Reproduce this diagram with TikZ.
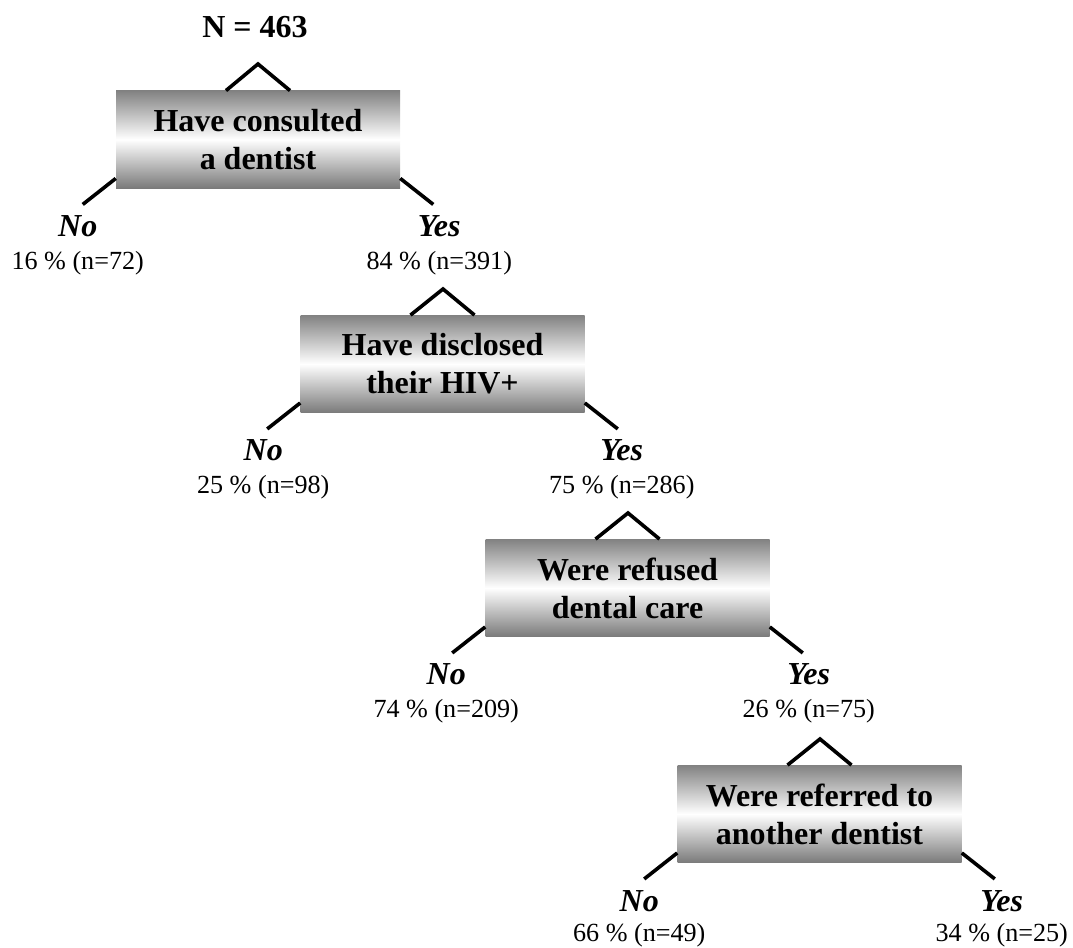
\documentclass[tikz,border=0pt]{standalone}
\usepackage{fontspec}
\setmainfont{Liberation Serif}
\usetikzlibrary{calc}
\definecolor{gtop}{RGB}{130,130,130}
\definecolor{gbot}{RGB}{122,122,122}
\tikzset{
  qbox/.style={minimum width=213pt, minimum height=73pt, inner sep=0pt, align=center,
    font=\fontsize{24}{28.5}\selectfont\bfseries,
    top color=gtop, bottom color=gbot, middle color=white},
  leg/.style={line width=2.7pt, black},
  ans/.style={font=\fontsize{24}{28}\selectfont\bfseries\itshape, anchor=base, inner sep=0pt},
  pct/.style={font=\fontsize{19.6}{23}\selectfont, anchor=base, inner sep=0pt},
  ttl/.style={font=\fontsize{24}{28}\selectfont\bfseries, anchor=base, inner sep=0pt}
}
\begin{document}
\begin{tikzpicture}[x=0.75pt, y=-0.75pt]
\useasboundingbox (0,0) rectangle (1073,947);

\node[ttl] (title) at (255,37) {N = 463};

% boxes
\node[qbox] (b1) at (258,139.5) {Have consulted\\a dentist};
\node[qbox] (b2) at (442.5,364) {Have disclosed\\their HIV+};
\node[qbox] (b3) at (627.5,588) {Were refused\\dental care};
\node[qbox] (b4) at (819.5,814) {Were referred to\\another dentist};

% apexes
\coordinate (a1) at (258,64);
\coordinate (a2) at (443,289);
\coordinate (a3) at (628,513);
\coordinate (a4) at (820,739);

% top legs
\foreach \i in {1,2,3,4}{
  \draw[leg] ($(b\i.north)+(-32,0)$) -- (a\i) -- ($(b\i.north)+(32,0)$);
}

% leg ends
\foreach \i in {1,2,3,4}{
  \coordinate (l\i) at ($(b\i.south west)+(-33,16)$);
  \coordinate (r\i) at ($(b\i.south east)+(33,16)$);
  \draw[leg] ($(b\i.south west)+(0,-10)$) -- (l\i);
  \draw[leg] ($(b\i.south east)+(0,-10)$) -- (r\i);
}

% labels
\node[ans] (no1)  at ($(l1)+(-5,32)$) {No};
\node[pct] (no1p) at ($(l1)+(-5,65)$) {16 \% (n=72)};
\node[ans] (ye1)  at ($(r1)+(6,32)$) {Yes};
\node[pct] (ye1p) at ($(r1)+(6,65)$) {84 \% (n=391)};

\node[ans] (no2)  at ($(l2)+(-4,32)$) {No};
\node[pct] (no2p) at ($(l2)+(-4,65)$) {25 \% (n=98)};
\node[ans] (ye2)  at ($(r2)+(4,32)$) {Yes};
\node[pct] (ye2p) at ($(r2)+(4,65)$) {75 \% (n=286)};

\node[ans] (no3)  at ($(l3)+(-6,32)$) {No};
\node[pct] (no3p) at ($(l3)+(-6,65)$) {74 \% (n=209)};
\node[ans] (ye3)  at ($(r3)+(6,32)$) {Yes};
\node[pct] (ye3p) at ($(r3)+(6,65)$) {26 \% (n=75)};

\node[ans] (no4)  at ($(l4)+(-5,33)$) {No};
\node[pct] (no4p) at ($(l4)+(-5,63)$) {66 \% (n=49)};
\node[ans] (ye4)  at ($(r4)+(7,33)$) {Yes};
\node[pct] (ye4p) at ($(r4)+(7,63)$) {34 \% (n=25)};
\end{tikzpicture}
\end{document}
